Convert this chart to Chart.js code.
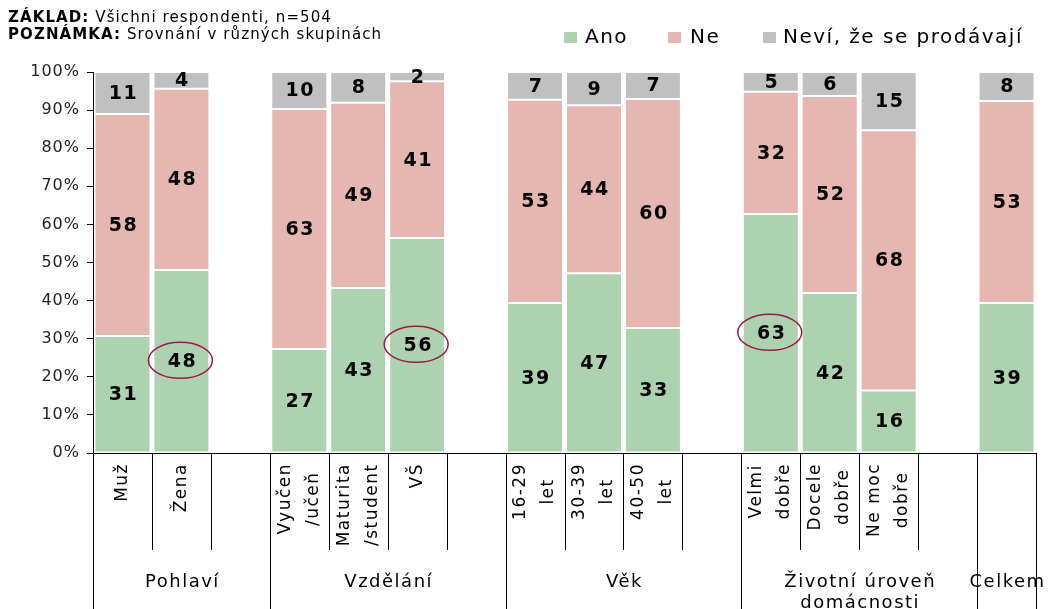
<!DOCTYPE html>
<html>
<head>
<meta charset="utf-8">
<script src="https://cdn.jsdelivr.net/npm/chart.js@4.4.1/dist/chart.umd.min.js"></script>
<style>
body{margin:0;background:#fff;font-family:'DejaVu Sans',sans-serif}
#wrap{position:relative;width:1050px;height:609px;overflow:hidden}
#title{position:absolute;left:8px;top:9px;font-size:15px;line-height:17px;letter-spacing:1.1px;color:#000}
.leg{position:absolute;top:24px;font-size:20px;line-height:24px;letter-spacing:1.5px;color:#000;white-space:nowrap}
.sw{position:absolute;top:32px;width:13px;height:11px}
</style>
</head>
<body>
<div id="wrap">
  <canvas id="myChart"></canvas>
  <div id="title"><b>ZÁKLAD:</b> Všichni respondenti, n=504<br><b>POZNÁMKA:</b> Srovnání v různých skupinách</div>
  <div class="sw" style="left:564px;background:#acd2b0"></div><div class="leg" style="left:585px">Ano</div>
  <div class="sw" style="left:668px;background:#e6b6b0"></div><div class="leg" style="left:690px">Ne</div>
  <div class="sw" style="left:763px;background:#c0c0c0"></div><div class="leg" style="left:783px">Neví, že se prodávají</div>
</div>
<script>
// categories (empty ones are the gaps between groups; the last bar "Celkem" only has its group label)
var categories = [['Muž'], ['Žena'], [''], ['Vyučen', '/učeň'], ['Maturita', '/student'], ['VŠ'], [''],
  ['16-29', 'let'], ['30-39', 'let'], ['40-50', 'let'], [''],
  ['Velmi', 'dobře'], ['Docele', 'dobře'], ['Ne moc', 'dobře'], [''], ['']];

var groupNames = [['Pohlaví'], ['Vzdělání'], ['Věk'], ['Životní úroveň', 'domácnosti'], ['Celkem']];
var groupStart = [0, 3, 7, 11, 15];
var groupEnd = [2, 6, 10, 14, 15];

var ano  = [30.7, 48.0, null, 27.3, 43.3, 56.4, null, 39.4, 47.2, 32.8, null, 62.7, 42.0, 16.4, null, 39.4];
var ne   = [58.3, 47.6, null, 63.0, 48.6, 41.2, null, 53.3, 44.1, 60.1, null, 32.1, 51.7, 68.3, null, 53.0];
var nevi = [11.0, 4.4, null, 9.7, 8.1, 2.4, null, 7.3, 8.7, 7.1, null, 5.2, 6.3, 15.3, null, 7.6];

// Ano bars that get a circle
var circled = [1, 5, 11];

var extras = {
  id: 'extras',
  beforeDraw: function(chart) {
    chart.ctx.letterSpacing = '1px';
  },
  afterDatasetsDraw: function(chart) {
    var ctx = chart.ctx;
    ctx.save();
    ctx.letterSpacing = '1.5px';
    ctx.font = 'bold 19px "DejaVu Sans"';
    ctx.fillStyle = '#000';
    ctx.textAlign = 'center';
    ctx.textBaseline = 'middle';
    chart.data.datasets.forEach(function(ds, di) {
      var meta = chart.getDatasetMeta(di);
      meta.data.forEach(function(bar, i) {
        var v = ds.data[i];
        if (v == null) return;
        var p = bar.getCenterPoint();
        ctx.fillText(Math.round(v), p.x + 1, p.y + 1);
      });
    });
    // circles round the highlighted values
    var m0 = chart.getDatasetMeta(0);
    ctx.strokeStyle = '#a3164b';
    ctx.lineWidth = 1.5;
    circled.forEach(function(i) {
      var p = m0.data[i].getCenterPoint();
      ctx.beginPath();
      ctx.ellipse(p.x - 1, p.y - 1, 32, 18, 0, 0, Math.PI * 2);
      ctx.stroke();
    });
    ctx.restore();
  },
  afterDraw: function(chart) {
    var ctx = chart.ctx;
    var xs = chart.scales.x;
    var area = chart.chartArea;
    var n = categories.length;
    var slot = (xs.getPixelForValue(1) - xs.getPixelForValue(0));
    var y0 = area.bottom;
    ctx.save();
    ctx.letterSpacing = '0px';
    ctx.strokeStyle = '#000';
    ctx.lineWidth = 1;
    // axis line
    ctx.beginPath();
    ctx.moveTo(area.left - 6, y0 + 0.5);
    ctx.lineTo(area.right, y0 + 0.5);
    ctx.stroke();
    // separators
    for (var k = 0; k <= n; k++) {
      var bx = Math.round(xs.getPixelForValue(0) - slot / 2 + k * slot) + 0.5;
      var isGroup = groupStart.indexOf(k) >= 0 || k == n;
      ctx.beginPath();
      ctx.moveTo(bx, y0);
      ctx.lineTo(bx, isGroup ? chart.height : y0 + 97);
      ctx.stroke();
    }
    // rotated category labels
    ctx.fillStyle = '#000';
    ctx.font = '17px "DejaVu Sans"';
    ctx.letterSpacing = '1.5px';
    ctx.textAlign = 'center';
    ctx.textBaseline = 'middle';
    categories.forEach(function(lines, i) {
      if (!lines[0]) return;
      var cx = xs.getPixelForValue(i);
      var maxW = 0;
      lines.forEach(function(t) { maxW = Math.max(maxW, ctx.measureText(t).width); });
      var cy = y0 + 10 + maxW / 2;
      ctx.save();
      ctx.translate(cx, cy);
      ctx.rotate(-Math.PI / 2);
      lines.forEach(function(t, j) {
        var off = lines.length == 1 ? 0 : (j == 0 ? -14 : 14);
        ctx.fillText(t, 0, off);
      });
      ctx.restore();
    });
    // group labels
    ctx.font = '18px "DejaVu Sans"';
    ctx.letterSpacing = '1.5px';
    ctx.textBaseline = 'alphabetic';
    groupNames.forEach(function(lines, g) {
      var gx = (xs.getPixelForValue(groupStart[g]) + xs.getPixelForValue(groupEnd[g])) / 2 + 1;
      lines.forEach(function(t, j) {
        ctx.fillText(t, gx, 587 + j * 21);
      });
    });
    ctx.restore();
  }
};

var ctx = document.getElementById('myChart').getContext('2d');
var chart = new Chart(ctx, {
  type: 'bar',
  data: {
    labels: categories,
    datasets: [
      { label: 'Ano', data: ano, backgroundColor: '#acd2b0' },
      { label: 'Ne', data: ne, backgroundColor: '#e6b6b0' },
      { label: 'Neví, že se prodávají', data: nevi, backgroundColor: '#c0c0c0' }
    ]
  },
  options: {
    responsive: true,
    maintainAspectRatio: false,
    animation: false,
    layout: { padding: { left: 0, right: 14, top: 72, bottom: 0 } },
    datasets: {
      bar: {
        barPercentage: 0.95,
        categoryPercentage: 1,
        borderColor: '#fff',
        borderWidth: 1,
        borderSkipped: false
      }
    },
    plugins: {
      legend: { display: false },
      tooltip: { enabled: false }
    },
    scales: {
      x: {
        stacked: true,
        ticks: { display: false },
        grid: { display: false },
        border: { display: false },
        afterFit: function(scale) { scale.height = 156; }
      },
      y: {
        stacked: true,
        min: 0,
        max: 100,
        ticks: {
          stepSize: 10,
          padding: 7,
          color: '#222',
          font: { family: 'DejaVu Sans', size: 16 },
          callback: function(v) { return v + '%'; }
        },
        grid: { drawOnChartArea: false, drawTicks: true, tickLength: 6, color: '#000' },
        border: { display: true, color: '#000', width: 1 },
        afterFit: function(scale) { scale.width = 93; }
      }
    }
  },
  plugins: [extras]
});
</script>
</body>
</html>
